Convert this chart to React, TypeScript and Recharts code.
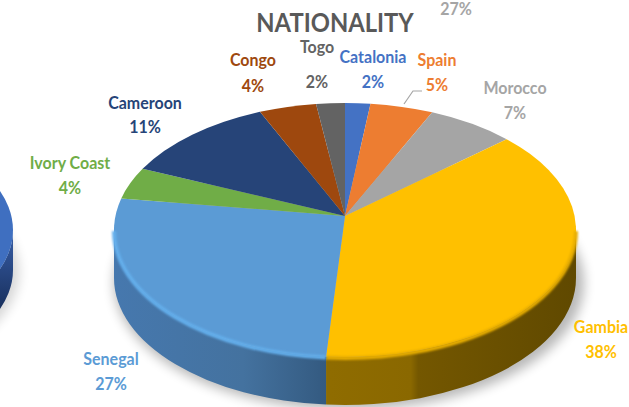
import { PieChart, Pie } from "recharts"

// ─── Data ────────────────────────────────────────────────────────────────────
const nationalities = ["Catalonia", "Spain", "Morocco", "Gambia", "Senegal", "Ivory Coast", "Cameroon", "Congo", "Togo"]
const shares = [2, 5, 7, 38, 27, 4, 11, 4, 2]
const sliceColors = ["#4472c4", "#ed7d31", "#a5a5a5", "#ffc000", "#5b9bd5", "#70ad47", "#264478", "#9e480e", "#636363"]

const neighbourShares = [100]
const neighbourLeftover = "27%"

const pieData = nationalities.map((name, i) => ({ name, value: shares[i], fill: sliceColors[i] }))
const neighbourData = neighbourShares.map((value) => ({ name: "other", value, fill: "#3f6fc0" }))

// Label anchors: centre x, y of the name, y of the percentage
const labelAnchors = [
  [373, 57, 82],
  [437, 60, 85],
  [515, 88, 113],
  [601, 327, 352],
  [111, 359, 384],
  [70, 163, 188],
  [145, 103, 127],
  [253, 60, 86],
  [317, 47, 82],
]

// ─── Tilted projection ───────────────────────────────────────────────────────
const rad = (deg: number) => (deg * Math.PI) / 180

// The tilt squeezes the right-hand slices a little; offsets are degrees lost at each clockwise angle
const lensStops = [
  [0, 0],
  [50, -6],
  [187, -2.5],
  [284, 0],
  [360, 0],
]
function lens(a: number) {
  for (let i = 1; i < lensStops.length; i++) {
    const [a0, d0] = lensStops[i - 1]
    const [a1, d1] = lensStops[i]
    if (a <= a1) return a + d0 + ((a - a0) / (a1 - a0)) * (d1 - d0)
  }
  return a
}

function SlicePie3D(props: any) {
  const { cx, cy, outerRadius, startAngle, endAngle, fill, index, squash, depth, apexDy, warp, wallFill, rimFill } = props
  const rx = outerRadius
  const ry = outerRadius * squash
  const map = (deg: number) => (warp ? lens(90 - deg) : 90 - deg)
  const a0 = map(startAngle)
  const a1 = map(endAngle)
  const pt = (a: number, dy = 0) => [cx + rx * Math.sin(rad(a)), cy - ry * Math.cos(rad(a)) + dy]
  const [x0, y0] = pt(a0)
  const [x1, y1] = pt(a1)
  const large = a1 - a0 > 180 ? 1 : 0
  const whole = a1 - a0 >= 359.9

  // the side wall only shows along the front half of the rim
  const w0 = Math.max(a0, 90)
  const w1 = Math.min(a1, 270)
  let wall = null
  let rim = null
  if (w1 > w0) {
    const [ax, ay] = pt(w0)
    const [bx, by] = pt(w1)
    const wallPath = `M${ax},${ay} A${rx},${ry} 0 0 1 ${bx},${by} L${bx},${by + depth} A${rx},${ry} 0 0 0 ${ax},${ay + depth} Z`
    wall = <path d={wallPath} fill={wallFill ? wallFill[index] : fill} />
    if (rimFill) {
      rim = (
        <path
          d={`M${ax},${ay + 1} A${rx},${ry} 0 0 1 ${bx},${by + 1}`}
          fill="none"
          stroke={rimFill[index]}
          strokeWidth={4}
          filter="url(#rimSoft)"
        />
      )
    }
  }
  return (
    <g>
      {wall}
      {whole ? (
        <ellipse cx={cx} cy={cy} rx={rx} ry={ry} fill={fill} />
      ) : (
        <path d={`M${cx},${cy + apexDy} L${x0},${y0} A${rx},${ry} 0 ${large} 1 ${x1},${y1} Z`} fill={fill} />
      )}
      {rim}
    </g>
  )
}

const wallFills = pieData.map((_, i) => (i === 3 ? "url(#wallGold)" : i === 4 ? "url(#wallBlue)" : "url(#wallPlain)"))
const rimFills = pieData.map((_, i) => (i === 3 ? "#e8ae06" : i === 4 ? "#64afec" : "none"))

function mainShape(props: any) {
  return <SlicePie3D {...props} squash={0.55} depth={48} apexDy={-14} warp wallFill={wallFills} rimFill={rimFills} />
}

function neighbourShape(props: any) {
  return <SlicePie3D {...props} squash={0.51} depth={40} apexDy={0} wallFill={["url(#wallNavy)"]} />
}

// ─── Labels ──────────────────────────────────────────────────────────────────
// Lato runs wider than the slide's face, so the text is narrowed horizontally
function NarrowText({ x, y, size, color, narrow = 0.94, children }: any) {
  return (
    <text
      transform={`translate(${x},${y}) scale(${narrow},1)`}
      textAnchor="middle"
      dominantBaseline="central"
      fontFamily="Lato, sans-serif"
      fontWeight={700}
      fontSize={size}
      fill={color}
      stroke="none"
    >
      {children}
    </text>
  )
}

function SliceLabel({ index }: any) {
  const [x, yName, yPct] = labelAnchors[index]
  const color = sliceColors[index]
  return (
    <g>
      <NarrowText x={x} y={yName} size={17} color={color}>
        {nationalities[index]}
      </NarrowText>
      <NarrowText x={x} y={yPct} size={17} color={color}>
        {shares[index]}%
      </NarrowText>
      {index === 1 && <polyline points="404,104 413,91 422,91" fill="none" stroke="#a6a6a6" strokeWidth={1.2} />}
    </g>
  )
}

// ─── Main component ──────────────────────────────────────────────────────────
export default function App() {
  return (
    <div style={{ position: "absolute", left: 0, top: 0, width: 629, height: 407, overflow: "hidden", background: "#fff" }}>
      {/* Soft shadow under the drums */}
      <svg width={629} height={407} style={{ position: "absolute", left: 0, top: 0 }}>
        <defs>
          <filter id="dropSoft" x="-20%" y="-20%" width="140%" height="140%">
            <feGaussianBlur stdDeviation={6} />
          </filter>
        </defs>
        <ellipse cx={349} cy={283} rx={235} ry={127} fill="#000" opacity={0.28} filter="url(#dropSoft)" />
        <ellipse cx={-215} cy={272} rx={234} ry={118} fill="#000" opacity={0.16} filter="url(#dropSoft)" />
      </svg>

      <div style={{ position: "absolute", left: 0, top: 0 }}>
        <PieChart width={629} height={407} margin={{ top: 0, right: 0, bottom: 0, left: 0 }}>
          <defs>
            <linearGradient id="wallGold" gradientUnits="userSpaceOnUse" x1="330" y1="0" x2="575" y2="0">
              <stop offset="0%" stopColor="#8f6c00" />
              <stop offset="33%" stopColor="#8a6800" />
              <stop offset="36%" stopColor="#745700" />
              <stop offset="100%" stopColor="#604900" />
            </linearGradient>
            <linearGradient id="wallBlue" gradientUnits="userSpaceOnUse" x1="113" y1="0" x2="330" y2="0">
              <stop offset="0%" stopColor="#4678ae" />
              <stop offset="60%" stopColor="#44729f" />
              <stop offset="100%" stopColor="#33597f" />
            </linearGradient>
            <linearGradient id="wallNavy" gradientUnits="userSpaceOnUse" x1="0" y1="240" x2="0" y2="310">
              <stop offset="0%" stopColor="#34599f" />
              <stop offset="100%" stopColor="#182f5c" />
            </linearGradient>
            <linearGradient id="wallPlain" x1="0" y1="0" x2="0" y2="1">
              <stop offset="0%" stopColor="#555" />
              <stop offset="100%" stopColor="#333" />
            </linearGradient>
            <filter id="rimSoft" x="-5%" y="-20%" width="110%" height="140%">
              <feGaussianBlur stdDeviation={1} />
            </filter>
          </defs>

          {/* Edge of the neighbouring chart, cut off by the frame */}
          <Pie
            data={neighbourData}
            dataKey="value"
            nameKey="name"
            cx={-219}
            cy={230}
            outerRadius={232}
            startAngle={90}
            endAngle={-270}
            stroke="none"
            isAnimationActive={false}
            shape={neighbourShape}
            inactiveShape={neighbourShape}
            activeShape={neighbourShape}
          />

          <Pie
            data={pieData}
            dataKey="value"
            nameKey="name"
            cx={345}
            cy={230}
            outerRadius={231}
            startAngle={90}
            endAngle={-270}
            stroke="none"
            isAnimationActive={false}
            shape={mainShape}
            inactiveShape={mainShape}
            activeShape={mainShape}
            label={SliceLabel}
            labelLine={false}
          />

          <NarrowText x={335} y={21} size={27} narrow={0.88} color="#595959">
            NATIONALITY
          </NarrowText>
          <NarrowText x={456} y={9} size={17} color="#a5a5a5">
            {neighbourLeftover}
          </NarrowText>
        </PieChart>
      </div>
    </div>
  )
}
